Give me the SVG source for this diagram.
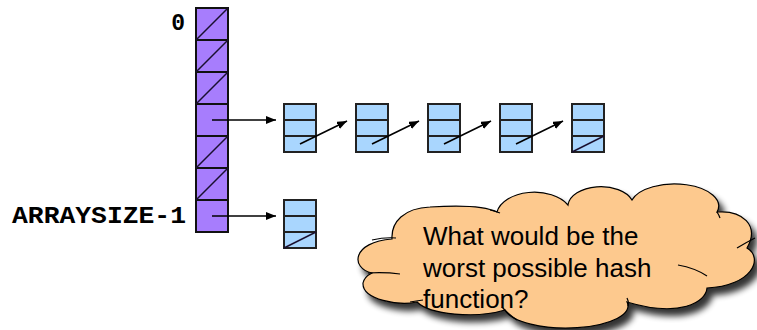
<svg xmlns="http://www.w3.org/2000/svg" width="757" height="330" viewBox="0 0 757 330">
<style>
.cell{fill:#a77dfd;stroke:#111;stroke-width:2}
.node{fill:#a9d6fe;stroke:#222;stroke-width:2}
.diag{stroke:#1a1030;stroke-width:1.5;fill:none}
.ptr{stroke:#000;stroke-width:1.6;fill:none}
.lbl{font-family:"Liberation Mono","Courier New",monospace;font-weight:bold;font-size:23px;fill:#000}
.cloud{fill:#fdc98e;stroke:#000;stroke-width:1.2}
.inner{fill:none;stroke:#000;stroke-width:1.2}
.q{font-family:"Liberation Sans",Arial,sans-serif;font-size:26px;fill:#000}
</style>
<defs>
<marker id="ah" markerUnits="userSpaceOnUse" markerWidth="10" markerHeight="8" refX="10" refY="4" orient="auto">
<path d="M0,0 L10,4 L0,8 z" fill="#000"/>
</marker>
<filter id="sh" x="-10%" y="-10%" width="130%" height="140%">
<feGaussianBlur in="SourceAlpha" stdDeviation="3"/>
<feOffset dx="5" dy="7" result="b"/>
<feComponentTransfer><feFuncA type="linear" slope="0.8"/></feComponentTransfer>
<feMerge><feMergeNode/><feMergeNode in="SourceGraphic"/></feMerge>
</filter>
</defs>

<g id="array">
<rect class="cell" x="196" y="8" width="32" height="32"/>
<rect class="cell" x="196" y="40" width="32" height="32"/>
<rect class="cell" x="196" y="72" width="32" height="32"/>
<rect class="cell" x="196" y="104" width="32" height="32"/>
<rect class="cell" x="196" y="136" width="32" height="32"/>
<rect class="cell" x="196" y="168" width="32" height="32"/>
<rect class="cell" x="196" y="200" width="32" height="32"/>
<path class="diag" d="M196,40 L228,8 M196,72 L228,40 M196,104 L228,72 M196,168 L228,136 M196,200 L228,168"/>
<text class="lbl" x="185" y="30" text-anchor="end">0</text>
<text class="lbl" x="12" y="223" textLength="174" lengthAdjust="spacingAndGlyphs">ARRAYSIZE-1</text>
</g>

<g id="list1-node1"><rect class="node" x="284" y="104" width="32" height="48"/><path class="node" d="M284,120 H316 M284,136 H316"/></g>
<g id="list1-node2"><rect class="node" x="356" y="104" width="32" height="48"/><path class="node" d="M356,120 H388 M356,136 H388"/></g>
<g id="list1-node3"><rect class="node" x="428" y="104" width="32" height="48"/><path class="node" d="M428,120 H460 M428,136 H460"/></g>
<g id="list1-node4"><rect class="node" x="500" y="104" width="32" height="48"/><path class="node" d="M500,120 H532 M500,136 H532"/></g>
<g id="list1-node5"><rect class="node" x="572" y="104" width="32" height="48"/><path class="node" d="M572,120 H604 M572,136 H604"/><path class="diag" d="M572,152 L604,136"/></g>
<g id="list2-node1"><rect class="node" x="284" y="200" width="32" height="48"/><path class="node" d="M284,216 H316 M284,232 H316"/><path class="diag" d="M284,248 L316,232"/></g>

<g id="connectors">
<line class="ptr" x1="212" y1="120" x2="276" y2="120" marker-end="url(#ah)"/>
<line class="ptr" x1="212" y1="216" x2="276" y2="216" marker-end="url(#ah)"/>
<line class="ptr" x1="300" y1="144" x2="347" y2="121" marker-end="url(#ah)"/>
<line class="ptr" x1="372" y1="144" x2="419" y2="121" marker-end="url(#ah)"/>
<line class="ptr" x1="444" y1="144" x2="491" y2="121" marker-end="url(#ah)"/>
<line class="ptr" x1="516" y1="144" x2="563" y2="121" marker-end="url(#ah)"/>
</g>

<g id="cloud">
<path class="cloud" filter="url(#sh)" d="M392,239 C391,222 404,208 430,207 C460,205 485,206 497,212 A38,24 0 0 1 568,205 A33,20 0 0 1 632,200 A44,22 0 0 1 717,212 C742,210 760,225 747,248 C764,258 752,286 707,288 C706,302 680,318 627,302 A62,22 0 0 1 505,310 A55,19 0 0 1 417,302 C400,306 362,300 363,283 C364,278 368,275 372,273 C350,268 352,242 392,239 Z"/>
<path class="inner" d="M372,240 Q385,237 396,238 M368,273 Q385,272 400,274 M410,302 Q416,301 423,300 M502,307 Q508,314 517,320 M627,298 Q629,302 628,306 M678,265 Q695,268 707,276 M737,248 Q747,242 755,238 M490,210 Q495,211 500,213 M717,212 Q719,215 720,218"/>
<text class="q" x="423" y="245">What would be the</text>
<text class="q" x="423" y="277">worst possible hash</text>
<text class="q" x="423" y="308">function?</text>
</g>
</svg>
